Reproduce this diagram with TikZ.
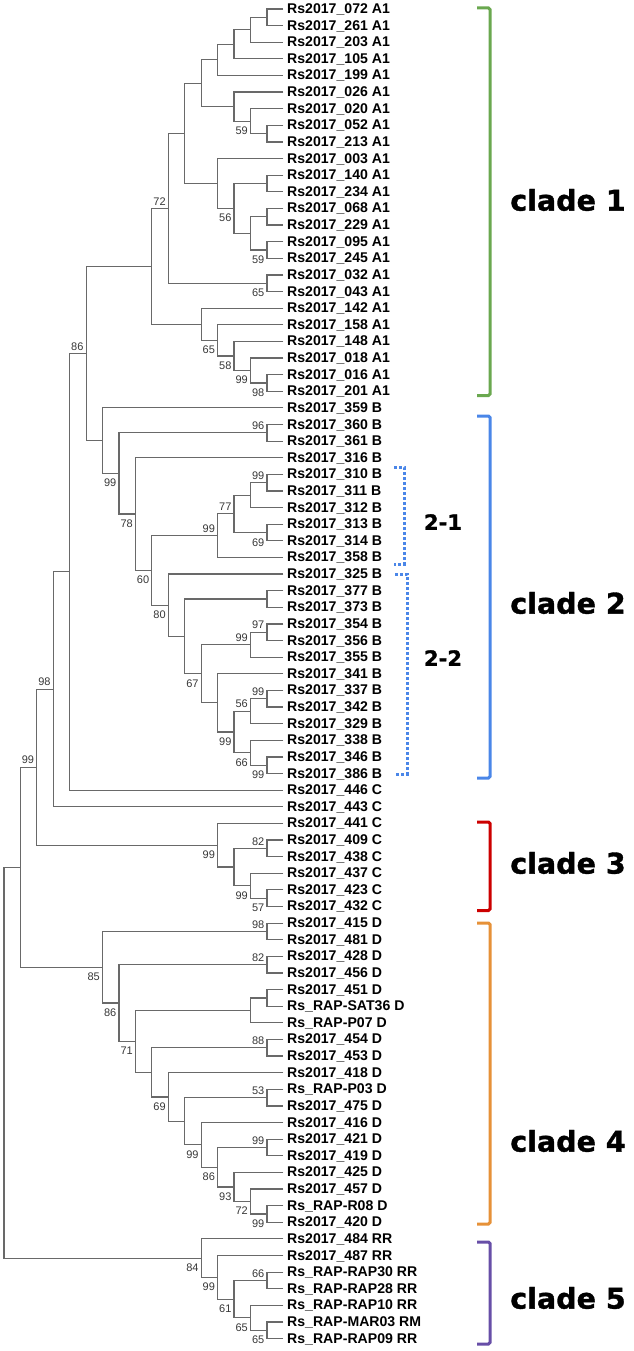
\documentclass[tikz,border=0pt]{standalone}
\usepackage{fontspec}
\setmainfont{Liberation Sans}
\newfontfamily\cladefont[FakeBold=1.2]{DejaVu Sans}
\usetikzlibrary{calc}
\definecolor{brc}{RGB}{105,105,105}
\definecolor{bsc}{RGB}{55,55,55}
\definecolor{cgreen}{RGB}{106,168,79}
\definecolor{cblue}{RGB}{74,134,232}
\definecolor{cred}{RGB}{204,0,0}
\definecolor{corange}{RGB}{230,145,56}
\definecolor{cpurple}{RGB}{103,78,167}
\newcommand{\treejoin}[4]{%
  \path let \p1=($(#3)!.5!(#4)$) in coordinate (#1) at ({(283.4-16.44*#2)*1pt},\y1);
  \draw[br] (#3) -| (#1) |- (#4);}
\newcommand{\treejoinl}[6]{%
  \treejoin{#1}{#2}{#3}{#4}%
  \node[bs#6] (#1bs) at (#1) {#5};}
\begin{document}
\begin{tikzpicture}[x=1pt,y=-1pt,
  br/.style={draw=brc,line width=1.2pt},
  leaf/.style={anchor=base west,inner sep=0pt,font=\fontsize{14.1}{16}\selectfont\bfseries},
  bsbase/.style={anchor=base east,inner sep=0pt,text=bsc,font=\fontsize{11}{12}\selectfont,xshift=-2.5pt},
  bsa/.style={bsbase,yshift=3.3pt},
  bsb/.style={bsbase,yshift=-13.5pt},
  brk/.style={line width=3pt,rounded corners=1.5pt},
  dotbrk/.style={draw=cblue,line width=3pt,dash pattern=on 3pt off 2pt},
  cladelab/.style={font=\cladefont\bfseries\fontsize{28.5}{30}\selectfont,inner sep=0pt},
  sublab/.style={font=\cladefont\bfseries\fontsize{21}{24}\selectfont,inner sep=0pt}]
\useasboundingbox (0,0) rectangle (633,1351);
\foreach \ix/\lab in {0/Rs2017\_072 A1, 1/Rs2017\_261 A1, 2/Rs2017\_203 A1, 3/Rs2017\_105 A1, 4/Rs2017\_199 A1, 5/Rs2017\_026 A1, 6/Rs2017\_020 A1, 7/Rs2017\_052 A1, 8/Rs2017\_213 A1, 9/Rs2017\_003 A1, 10/Rs2017\_140 A1, 11/Rs2017\_234 A1, 12/Rs2017\_068 A1, 13/Rs2017\_229 A1, 14/Rs2017\_095 A1, 15/Rs2017\_245 A1, 16/Rs2017\_032 A1, 17/Rs2017\_043 A1, 18/Rs2017\_142 A1, 19/Rs2017\_158 A1, 20/Rs2017\_148 A1, 21/Rs2017\_018 A1, 22/Rs2017\_016 A1, 23/Rs2017\_201 A1,
24/Rs2017\_359 B, 25/Rs2017\_360 B, 26/Rs2017\_361 B, 27/Rs2017\_316 B, 28/Rs2017\_310 B, 29/Rs2017\_311 B, 30/Rs2017\_312 B, 31/Rs2017\_313 B, 32/Rs2017\_314 B, 33/Rs2017\_358 B, 34/Rs2017\_325 B, 35/Rs2017\_377 B, 36/Rs2017\_373 B, 37/Rs2017\_354 B, 38/Rs2017\_356 B, 39/Rs2017\_355 B, 40/Rs2017\_341 B, 41/Rs2017\_337 B, 42/Rs2017\_342 B, 43/Rs2017\_329 B, 44/Rs2017\_338 B, 45/Rs2017\_346 B, 46/Rs2017\_386 B,
47/Rs2017\_446 C, 48/Rs2017\_443 C, 49/Rs2017\_441 C, 50/Rs2017\_409 C, 51/Rs2017\_438 C, 52/Rs2017\_437 C, 53/Rs2017\_423 C, 54/Rs2017\_432 C,
55/Rs2017\_415 D, 56/Rs2017\_481 D, 57/Rs2017\_428 D, 58/Rs2017\_456 D, 59/Rs2017\_451 D, 60/Rs\_RAP-SAT36 D, 61/Rs\_RAP-P07 D, 62/Rs2017\_454 D, 63/Rs2017\_453 D, 64/Rs2017\_418 D, 65/Rs\_RAP-P03 D, 66/Rs2017\_475 D, 67/Rs2017\_416 D, 68/Rs2017\_421 D, 69/Rs2017\_419 D, 70/Rs2017\_425 D, 71/Rs2017\_457 D, 72/Rs\_RAP-R08 D, 73/Rs2017\_420 D,
74/Rs2017\_484 RR, 75/Rs2017\_487 RR, 76/Rs\_RAP-RAP30 RR, 77/Rs\_RAP-RAP28 RR, 78/Rs\_RAP-RAP10 RR, 79/Rs\_RAP-MAR03 RM, 80/Rs\_RAP-RAP09 RR}{
  \coordinate (l\ix) at (283.4,{9+16.62*\ix});
  \node[leaf] (t\ix) at (287,{13.5+16.62*\ix}) {\lab};
}
% clade 1
\treejoin{a1}{1}{l0}{l1}
\treejoin{a2}{2}{a1}{l2}
\treejoin{a3}{3}{a2}{l3}
\treejoin{a4}{4}{a3}{l4}
\treejoin{a5}{1}{l7}{l8}
\treejoinl{a6}{2}{l6}{a5}{59}{b}
\treejoin{a7}{3}{l5}{a6}
\treejoin{a8}{5}{a4}{a7}
\treejoin{a9}{1}{l10}{l11}
\treejoin{a10}{1}{l12}{l13}
\treejoinl{a11}{1}{l14}{l15}{59}{b}
\treejoin{a12}{2}{a10}{a11}
\treejoinl{a13}{3}{a9}{a12}{56}{b}
\treejoin{a14}{4}{l9}{a13}
\treejoin{a15}{6}{a8}{a14}
\treejoinl{a16}{1}{l16}{l17}{65}{b}
\treejoinl{a17}{7}{a15}{a16}{72}{a}
\treejoinl{a18}{1}{l22}{l23}{98}{b}
\treejoinl{a19}{2}{l21}{a18}{99}{b}
\treejoinl{a20}{3}{l20}{a19}{58}{b}
\treejoinl{a21}{4}{l19}{a20}{65}{b}
\treejoin{a22}{5}{l18}{a21}
\treejoin{a23}{8}{a17}{a22}
% clade 2
\treejoinl{b1}{1}{l25}{l26}{96}{a}
\treejoinl{b2}{1}{l28}{l29}{99}{a}
\treejoin{b3}{2}{b2}{l30}
\treejoinl{b4}{1}{l31}{l32}{69}{b}
\treejoinl{b5}{3}{b3}{b4}{77}{a}
\treejoinl{b6}{4}{b5}{l33}{99}{a}
\treejoin{b7}{1}{l35}{l36}
\treejoinl{b8}{1}{l37}{l38}{97}{a}
\treejoinl{b9}{2}{b8}{l39}{99}{a}
\treejoinl{b10}{1}{l41}{l42}{99}{a}
\treejoinl{b11}{2}{b10}{l43}{56}{a}
\treejoinl{b12}{1}{l45}{l46}{99}{b}
\treejoinl{b13}{2}{l44}{b12}{66}{b}
\treejoinl{b14}{3}{b11}{b13}{99}{b}
\treejoin{b15}{4}{l40}{b14}
\treejoinl{b16}{5}{b9}{b15}{67}{b}
\treejoin{b17}{6}{b7}{b16}
\treejoinl{b18}{7}{l34}{b17}{80}{b}
\treejoinl{b19}{8}{b6}{b18}{60}{b}
\treejoinl{b20}{9}{l27}{b19}{78}{b}
\treejoinl{b21}{10}{b1}{b20}{99}{b}
\treejoin{b22}{11}{l24}{b21}
\treejoinl{c0}{12}{a23}{b22}{86}{a}
\treejoin{c1}{13}{c0}{l47}
\treejoinl{c2}{14}{c1}{l48}{98}{a}
% clade 3
\treejoinl{d1}{1}{l53}{l54}{57}{b}
\treejoinl{d2}{2}{l52}{d1}{99}{b}
\treejoinl{d3}{1}{l50}{l51}{82}{a}
\treejoin{d4}{3}{d3}{d2}
\treejoinl{d5}{4}{l49}{d4}{99}{b}
\treejoinl{c3}{15}{c2}{d5}{99}{a}
% clade 4
\treejoinl{e1}{1}{l55}{l56}{98}{a}
\treejoinl{e2}{1}{l57}{l58}{82}{a}
\treejoin{e3}{1}{l59}{l60}
\treejoin{e4}{2}{e3}{l61}
\treejoinl{e5}{1}{l62}{l63}{88}{a}
\treejoinl{e6}{1}{l65}{l66}{53}{a}
\treejoinl{e7}{1}{l68}{l69}{99}{a}
\treejoinl{e8}{1}{l72}{l73}{99}{b}
\treejoinl{e9}{2}{l71}{e8}{72}{b}
\treejoinl{e10}{3}{l70}{e9}{93}{b}
\treejoinl{e11}{4}{e7}{e10}{86}{b}
\treejoinl{e12}{5}{l67}{e11}{99}{b}
\treejoin{e13}{6}{e6}{e12}
\treejoinl{e14}{7}{l64}{e13}{69}{b}
\treejoin{e15}{8}{e5}{e14}
\treejoinl{e16}{9}{e4}{e15}{71}{b}
\treejoinl{e17}{10}{e2}{e16}{86}{b}
\treejoinl{e18}{11}{e1}{e17}{85}{b}
\treejoin{c4}{16}{c3}{e18}
% clade 5
\treejoinl{f1}{1}{l79}{l80}{65}{b}
\treejoinl{f2}{2}{l78}{f1}{65}{b}
\treejoinl{f3}{1}{l76}{l77}{66}{a}
\treejoinl{f4}{3}{f3}{f2}{61}{b}
\treejoinl{f5}{4}{l75}{f4}{99}{b}
\treejoinl{f6}{5}{l74}{f5}{84}{b}
\treejoin{root}{17}{c4}{f6}
% brackets
\draw[brk,cgreen] (477,8) -- (490,8) -- (490,395.5) -- (477,395.5);
\draw[brk,cblue] (477,416) -- (490,416) -- (490,778) -- (477,778);
\draw[brk,cred] (477,822) -- (490,822) -- (490,910.5) -- (477,910.5);
\draw[brk,corange] (477,923) -- (490,923) -- (490,1224) -- (477,1224);
\draw[brk,cpurple] (477,1242) -- (490,1242) -- (490,1344) -- (477,1344);
\draw[dotbrk] (394,467) -- (404,467) -- (404,564) -- (394,564);
\draw[dotbrk] (395,574) -- (407,574) -- (407,774) -- (395,774);
\node[cladelab] (k1) at (568,200) {clade 1};
\node[cladelab] (k2) at (568,603) {clade 2};
\node[cladelab] (k3) at (568,863) {clade 3};
\node[cladelab] (k4) at (568,1141) {clade 4};
\node[cladelab] (k5) at (568,1298) {clade 5};
\node[sublab] (s1) at (443,522) {2-1};
\node[sublab] (s2) at (443,658) {2-2};
\end{tikzpicture}
\end{document}
